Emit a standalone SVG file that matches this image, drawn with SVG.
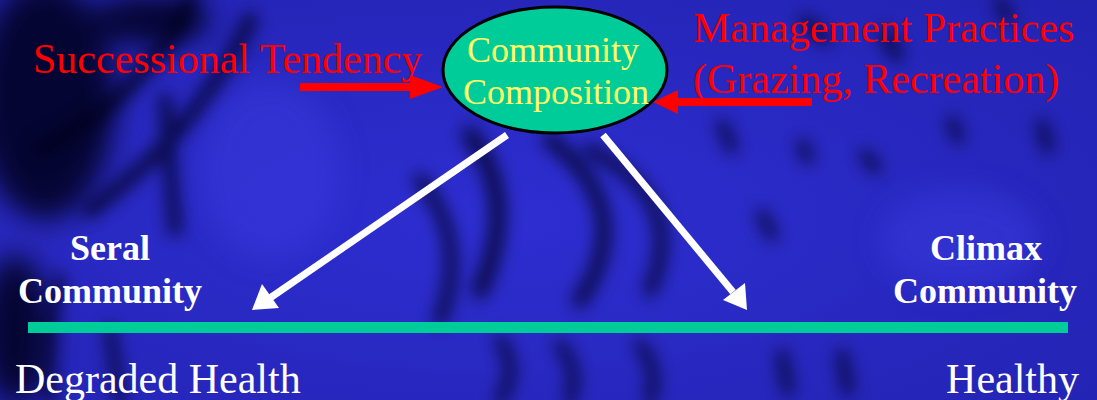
<svg xmlns="http://www.w3.org/2000/svg" width="1097" height="400" viewBox="0 0 1097 400">
  <style>
    .red { font-family: "Liberation Serif", "Times New Roman", serif; font-size: 42px; fill: #ff0000; }
    .inner { font-family: "Liberation Serif", "Times New Roman", serif; font-size: 36px; fill: #ffff66; text-anchor: middle; }
    .pole { font-family: "Liberation Serif", "Times New Roman", serif; font-size: 36px; font-weight: bold; fill: #ffffff; text-anchor: middle; }
    .scale { font-family: "Liberation Serif", "Times New Roman", serif; font-size: 42px; fill: #ffffff; }
    .push { fill: #ff0000; }
    .flow { stroke: #ffffff; stroke-width: 7; fill: none; }
    .flowhead { fill: #ffffff; }
    .streak { fill: none; stroke: #04041c; stroke-linecap: round; }
  </style>
  <defs>
    <filter id="soft" x="-20%" y="-20%" width="140%" height="140%">
      <feGaussianBlur stdDeviation="14"/>
    </filter>
    <filter id="smudge" x="-20%" y="-20%" width="140%" height="140%">
      <feGaussianBlur stdDeviation="8"/>
    </filter>
    <radialGradient id="glow" cx="0.45" cy="0.55" r="0.8">
      <stop offset="0" stop-color="#2e2ed2"/>
      <stop offset="1" stop-color="#2222b0"/>
    </radialGradient>
  </defs>

  <!-- textured blue backdrop -->
  <g id="backdrop">
    <rect width="1097" height="400" fill="url(#glow)"/>
    <g filter="url(#soft)" fill="#04041a" opacity="0.85">
      <ellipse cx="45" cy="100" rx="70" ry="120"/>
      <ellipse cx="15" cy="330" rx="35" ry="75"/>
      <ellipse cx="150" cy="20" rx="60" ry="25"/>
    </g>
    <g filter="url(#smudge)" opacity="0.7">
      <!-- swept bands, upper left -->
      <path class="streak" stroke-width="18" d="M190 0 Q150 90 40 150"/>
      <path class="streak" stroke-width="16" d="M250 20 Q200 130 90 210"/>
      <path class="streak" stroke-width="14" d="M165 100 L175 230"/>
      <path class="streak" stroke-width="12" d="M60 280 Q40 330 50 400"/>
      <path class="streak" stroke-width="12" d="M110 330 L120 400"/>
      <!-- arcs below the composition node -->
      <path class="streak" stroke-width="18" d="M470 135 Q520 200 480 290"/>
      <path class="streak" stroke-width="16" d="M550 140 Q640 210 580 300"/>
      <path class="streak" stroke-width="14" d="M590 150 Q690 200 650 290"/>
      <path class="streak" stroke-width="14" d="M420 180 Q470 240 440 320"/>
      <path class="streak" stroke-width="12" d="M500 340 Q520 370 500 400"/>
      <path class="streak" stroke-width="12" d="M560 345 Q580 370 570 400"/>
      <path class="streak" stroke-width="12" d="M640 345 Q660 370 650 400"/>
      <!-- scattered marks, right half -->
      <path class="streak" stroke-width="14" d="M805 22 L825 38"/>
      <path class="streak" stroke-width="14" d="M885 35 L897 55"/>
      <path class="streak" stroke-width="12" d="M802 145 L808 158"/>
      <path class="streak" stroke-width="12" d="M865 155 L876 168"/>
      <path class="streak" stroke-width="12" d="M762 215 L772 235"/>
      <path class="streak" stroke-width="12" d="M952 122 L958 138"/>
      <path class="streak" stroke-width="12" d="M1042 125 L1048 148"/>
      <path class="streak" stroke-width="12" d="M722 125 L732 148"/>
      <path class="streak" stroke-width="12" d="M842 355 L848 390"/>
      <path class="streak" stroke-width="12" d="M782 355 L788 390"/>
      <path class="streak" stroke-width="12" d="M1000 2 L1008 18"/>
    </g>
    <g filter="url(#soft)" fill="#3a3ae0" opacity="0.5">
      <ellipse cx="270" cy="170" rx="70" ry="90"/>
      <ellipse cx="960" cy="240" rx="80" ry="50"/>
    </g>
  </g>

  <!-- baseline scale -->
  <rect id="scale-bar" x="28" y="322" width="1040" height="11" fill="#00cc99"/>

  <!-- connectors -->
  <g id="connectors">
    <!-- influences on composition -->
    <rect class="push" x="300" y="83" width="112" height="8"/>
    <polygon class="push" points="410,75 443,87 410,99"/>
    <rect class="push" x="676" y="98" width="136" height="8"/>
    <polygon class="push" points="678,90 653,102 678,114"/>
    <!-- outcomes -->
    <line class="flow" x1="507" y1="135" x2="270" y2="298"/>
    <polygon class="flowhead" points="252,310 262,284 279,308"/>
    <line class="flow" x1="603" y1="135" x2="733" y2="292"/>
    <polygon class="flowhead" points="747,310 723,300 745,283"/>
  </g>

  <g id="node-composition">
    <ellipse cx="555" cy="70" rx="112" ry="63" fill="#00cc99" stroke="#000000" stroke-width="3"/>
    <text class="inner" x="553" y="62">Community</text>
    <text class="inner" x="556" y="104">Composition</text>
  </g>

  <g id="node-successional">
    <text class="red" x="33" y="73">Successional Tendency</text>
  </g>

  <g id="node-management">
    <text class="red" x="693" y="42">Management Practices</text>
    <text class="red" x="693" y="93">(Grazing, Recreation)</text>
  </g>

  <g id="node-seral">
    <text class="pole" x="110" y="260">Seral</text>
    <text class="pole" x="110" y="303">Community</text>
  </g>

  <g id="node-climax">
    <text class="pole" x="986" y="260">Climax</text>
    <text class="pole" x="985" y="303">Community</text>
  </g>

  <g id="node-degraded">
    <text class="scale" x="15" y="393">Degraded Health</text>
  </g>

  <g id="node-healthy">
    <text class="scale" x="1079" y="393" text-anchor="end">Healthy</text>
  </g>
</svg>
